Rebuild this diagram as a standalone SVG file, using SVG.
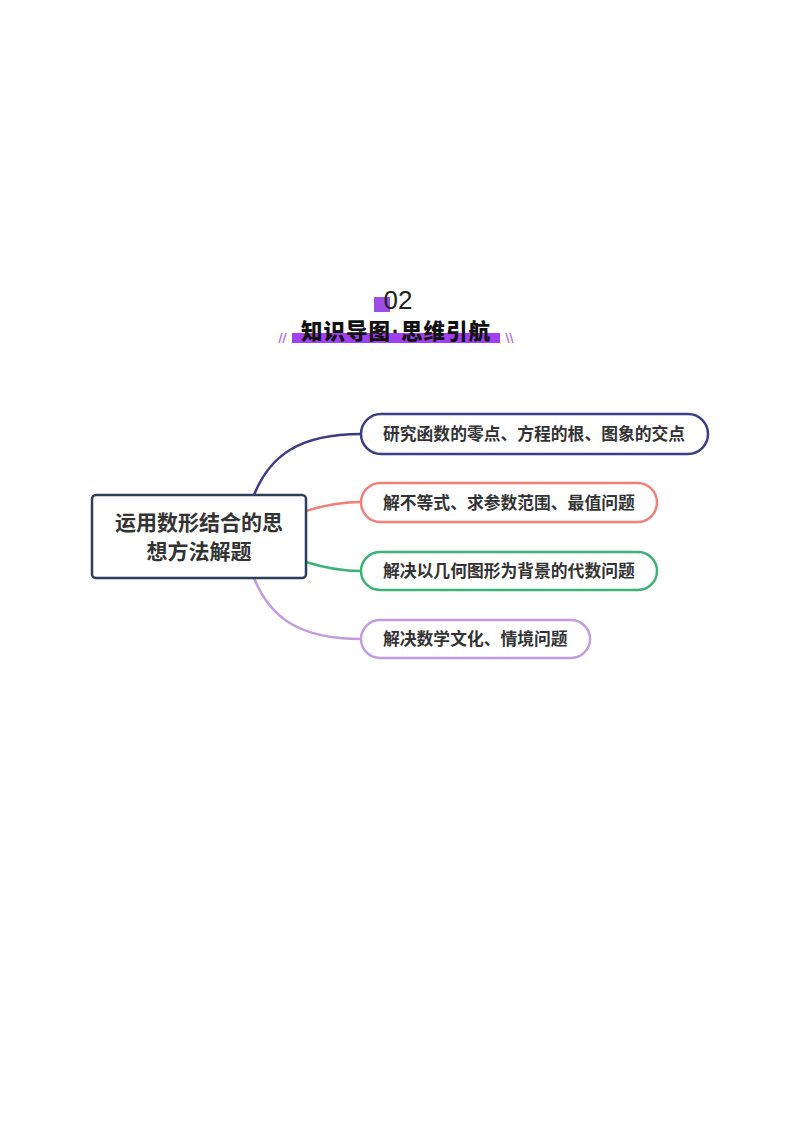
<svg xmlns="http://www.w3.org/2000/svg" width="800" height="1132" viewBox="0 0 800 1132">
<style>
.t{font-family:"Noto Sans CJK SC","Noto Sans",sans-serif;font-weight:bold;fill:#333;}
.pill{fill:#fff;stroke-width:2.5;}
.c{fill:none;stroke-width:2.5;}
</style>
<rect width="800" height="1132" fill="#fff"/>
<g id="header">
<rect x="374" y="297" width="16" height="15" fill="#a04de8"/>
<text x="398" y="309" text-anchor="middle" font-family="Liberation Sans,sans-serif" font-size="26" fill="#222">02</text>
<rect x="292" y="333" width="208" height="10" fill="#a040f0"/>
<text x="396" y="339" text-anchor="middle" font-family="Noto Sans CJK SC,sans-serif" font-weight="900" font-size="21.5" fill="#111" letter-spacing="1">知识导图<tspan font-family="Liberation Sans,sans-serif" font-weight="bold" dx="1">·</tspan><tspan dx="1">思维引航</tspan></text>
<g stroke="#c07ff0" stroke-width="1.6">
<line x1="279" y1="343" x2="282" y2="333"/><line x1="283" y1="343" x2="286" y2="333"/>
<line x1="506" y1="333" x2="509" y2="343"/><line x1="510" y1="333" x2="513" y2="343"/>
</g>
</g>
<g id="connectors">
<path class="c" stroke="#3d3d85" d="M254 495 C270 455,300 434,361 434"/>
<path class="c" stroke="#f08078" d="M306 511 C325 505,340 502,361 502"/>
<path class="c" stroke="#3cb375" d="M306 562 C325 568,340 571,361 571"/>
<path class="c" stroke="#c39be0" d="M254 578 C270 618,300 639,361 639"/>
</g>
<g id="root">
<rect x="92" y="495" width="214" height="83" rx="4" fill="#fff" stroke="#2e3f5c" stroke-width="2.5"/>
<text class="t" x="199" y="530" text-anchor="middle" font-size="21">运用数形结合的思</text>
<text class="t" x="199" y="559" text-anchor="middle" font-size="21">想方法解题</text>
</g>
<g id="n1">
<rect class="pill" x="361" y="414" width="347" height="40" rx="20" stroke="#3d3d85"/>
<text class="t" x="383" y="440" font-size="16.8">研究函数的零点、方程的根、图象的交点</text>
</g>
<g id="n2">
<rect class="pill" x="361" y="483" width="296" height="39" rx="19.5" stroke="#f08078"/>
<text class="t" x="383" y="508.5" font-size="16.8">解不等式、求参数范围、最值问题</text>
</g>
<g id="n3">
<rect class="pill" x="361" y="552" width="296" height="38" rx="19" stroke="#3cb375"/>
<text class="t" x="383" y="577" font-size="16.8">解决以几何图形为背景的代数问题</text>
</g>
<g id="n4">
<rect class="pill" x="361" y="620" width="229" height="38" rx="19" stroke="#c39be0"/>
<text class="t" x="383" y="645" font-size="16.8">解决数学文化、情境问题</text>
</g>
</svg>
